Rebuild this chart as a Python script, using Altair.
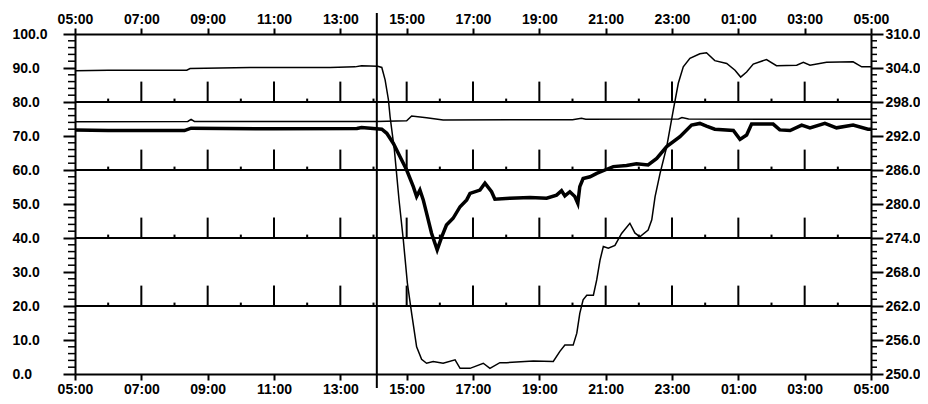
import altair as alt
import pandas as pd

# ---- data (clock hours; values above 24 are after midnight) ----
a_time = [5.0, 6.0, 8.37, 8.47, 10.28, 12.69, 13.44, 13.64, 14.13, 14.25, 14.35, 14.45, 14.5,
          14.63, 14.77, 14.9, 15.02, 15.15, 15.3, 15.45, 15.6, 15.8, 16.1, 16.46, 16.61, 16.91,
          17.31, 17.51, 17.81, 18.01, 18.82, 19.42, 19.62, 19.77, 20.02, 20.13, 20.22, 20.32,
          20.43, 20.63, 20.73, 20.83, 20.93, 21.08, 21.28, 21.48, 21.73, 21.88, 22.03, 22.28,
          22.39, 22.49, 22.64, 22.84, 23.04, 23.19, 23.34, 23.54, 23.84, 24.04, 24.29, 24.65,
          24.9, 25.07, 25.25, 25.45, 25.85, 26.15, 26.76, 26.96, 27.16, 27.66, 28.46, 28.72, 29.0]
a_value = [303.5, 303.6, 303.6, 303.9, 304.1, 304.1, 304.2, 304.4, 304.3, 304.1, 301.9, 298.4, 295.4,
           289.5, 280.7, 273.6, 266.1, 260.7, 254.8, 252.6, 251.9, 252.2, 251.9, 252.5, 251.0, 251.0,
           251.9, 251.0, 252.0, 252.0, 252.3, 252.2, 254.0, 255.1, 255.1, 257.2, 260.7, 263.1,
           263.9, 263.9, 266.6, 270.1, 272.5, 272.2, 272.7, 274.8, 276.6, 274.9, 274.2, 275.4,
           277.2, 281.3, 285.4, 290.1, 296.6, 301.3, 304.2, 305.7, 306.5, 306.7, 305.3, 304.8,
           303.6, 302.4, 303.3, 304.7, 305.5, 304.4, 304.5, 305.0, 304.5, 305.0, 305.1, 304.2, 304.2]

b_time = [5.0, 8.4, 8.5, 8.6, 14.1, 15.0, 15.15, 15.6, 16.1, 20.0, 20.27, 20.4, 23.2, 23.3, 23.5, 29.0]
b_value = [74.2, 74.3, 74.9, 74.3, 74.3, 74.5, 75.9, 75.4, 74.7, 74.8, 75.2, 74.9, 75.0, 75.4, 75.0, 74.9]

c_time = [5.0, 6.0, 8.3, 8.5, 11.0, 13.5, 13.64, 14.25, 14.4, 14.6, 14.8, 15.0, 15.2, 15.3, 15.4,
          15.5, 15.6, 15.75, 15.92, 16.06, 16.2, 16.4, 16.61, 16.81, 16.91, 17.21, 17.36, 17.56,
          17.66, 18.11, 18.72, 19.22, 19.52, 19.67, 19.77, 19.92, 20.07, 20.16, 20.22, 20.32,
          20.53, 20.73, 20.98, 21.23, 21.63, 21.93, 22.28, 22.54, 22.84, 23.24, 23.59, 23.84,
          24.04, 24.29, 24.85, 25.05, 25.25, 25.4, 26.05, 26.25, 26.56, 26.91, 27.16, 27.61,
          27.96, 28.46, 28.91, 29.0]
c_value = [71.8, 71.6, 71.6, 72.3, 72.1, 72.2, 72.5, 72.0, 70.8, 67.8, 63.9, 60.0, 55.1, 52.2, 54.1,
           51.2, 47.3, 41.4, 36.5, 40.4, 43.8, 45.8, 49.2, 51.2, 53.1, 54.1, 56.1, 53.6,
           51.4, 51.7, 51.9, 51.7, 52.6, 53.9, 52.4, 53.6, 52.2, 50.2, 55.1, 57.5,
           58.0, 59.0, 60.0, 61.0, 61.3, 61.8, 61.5, 63.4, 66.9, 69.8, 73.2, 73.7,
           72.9, 72.0, 71.6, 69.0, 70.3, 73.5, 73.5, 71.8, 71.6, 73.2, 72.4, 73.7,
           72.4, 73.2, 72.0, 72.0]

grid_levels = [20, 40, 60, 80]
odd_hours = [7, 9, 11, 13, 15, 17, 19, 21, 23, 25, 27]
even_hours = [6, 8, 10, 12, 14, 16, 18, 20, 22, 24, 26, 28]
label_hours = [5, 7, 9, 11, 13, 15, 17, 19, 21, 23, 25, 27, 29]
left_ticks = [0, 10, 20, 30, 40, 50, 60, 70, 80, 90, 100]
right_ticks = [250, 256, 262, 268, 274, 280, 286, 292, 298, 304, 310]
minor_ticks = [v for v in range(0, 101, 2) if v % 10]
marker_time = [14.1]

W, H = 796, 340
TALL, SHORT = 6, 1

band_rows = []
for lev in grid_levels:
    for h in odd_hours:
        band_rows.append({"t": h, "y0": lev, "y1": lev + TALL})
    for h in even_hours:
        band_rows.append({"t": h, "y0": lev, "y1": lev + SHORT})

band_df = pd.DataFrame(band_rows)
grid_df = pd.DataFrame({"level": grid_levels})
minor_df = pd.DataFrame({"v": minor_ticks})
marker_df = pd.DataFrame({"t": marker_time})
a_df = pd.DataFrame({"t": a_time, "v": a_value})
b_df = pd.DataFrame({"t": b_time, "v": b_value})
c_df = pd.DataFrame({"t": c_time, "v": c_value})

xs = alt.Scale(domain=[5, 29], nice=False, zero=False)
ys = alt.Scale(domain=[0, 100], nice=False, zero=False)
ys_r = alt.Scale(domain=[250, 310], nice=False, zero=False)

lbl = "(datum.value % 24 < 10 ? '0' : '') + (datum.value % 24) + ':00'"
common = dict(labelFont="Liberation Sans", labelFontWeight="bold", labelFontSize=14,
              labelColor="black", domainColor="black", domainWidth=2, tickColor="black",
              tickWidth=2, grid=False, title=None, labelFlush=False, labelOverlap=False)

bottom_axis = alt.Axis(orient="bottom", values=label_hours, labelExpr=lbl, tickSize=6,
                       labelPadding=2, **common)
top_axis = alt.Axis(orient="top", values=label_hours, labelExpr=lbl, tickSize=6,
                    labelPadding=2, **common)
left_axis = alt.Axis(orient="left", values=left_ticks, format=".1f", tickSize=12,
                     labelAlign="left", labelPadding=51, **common)
right_axis = alt.Axis(orient="right", values=right_ticks, format=".1f", tickSize=12,
                      labelAlign="left", labelPadding=2, **common)

grid = alt.Chart(grid_df).mark_rule(color="black", strokeWidth=2).encode(
    y=alt.Y("level:Q", scale=ys, axis=left_axis),
    x=alt.value(0), x2=alt.value(W))

band = alt.Chart(band_df).mark_rule(color="black", strokeWidth=2).encode(
    x=alt.X("t:Q", scale=xs, axis=bottom_axis),
    y=alt.Y("y0:Q", scale=ys, axis=None), y2="y1:Q")

minor_l = alt.Chart(minor_df).mark_rule(color="black", strokeWidth=1.5).encode(
    y=alt.Y("v:Q", scale=ys, axis=None), x=alt.value(-7), x2=alt.value(0))
minor_r = alt.Chart(minor_df).mark_rule(color="black", strokeWidth=1.5).encode(
    y=alt.Y("v:Q", scale=ys, axis=None), x=alt.value(W), x2=alt.value(W + 6))

line_b = alt.Chart(b_df).mark_line(color="black", strokeWidth=1.5).encode(
    x=alt.X("t:Q", scale=xs, axis=None), y=alt.Y("v:Q", scale=ys, axis=None))
line_c = alt.Chart(c_df).mark_line(color="black", strokeWidth=3.5).encode(
    x=alt.X("t:Q", scale=xs, axis=None), y=alt.Y("v:Q", scale=ys, axis=None))

marker = alt.Chart(marker_df).mark_rule(color="black", strokeWidth=2).encode(
    x=alt.X("t:Q", scale=xs, axis=None), y=alt.value(-21), y2=alt.value(H + 14))

line_a = alt.Chart(a_df).mark_line(color="black", strokeWidth=1.5).encode(
    x=alt.X("t:Q", scale=xs, axis=top_axis),
    y=alt.Y("v:Q", scale=ys_r, axis=right_axis))

chart = alt.layer(grid, band, minor_l, minor_r, line_b, line_c, marker, line_a).resolve_scale(
    y="independent").resolve_axis(x="independent", y="independent").properties(
    width=W, height=H,
    autosize=alt.AutoSizeParams(type="none"),
    padding={"left": 67, "top": 26, "right": 49, "bottom": 24},
    background="white",
).configure_view(strokeWidth=0)

chart.save("out.html", embed_options={"renderer": "svg", "actions": False})
